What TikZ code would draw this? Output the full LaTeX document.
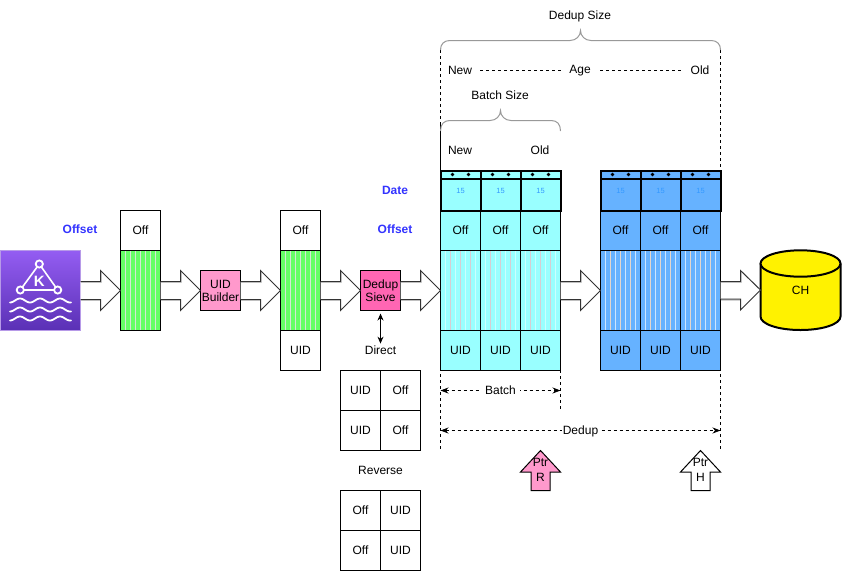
\documentclass[tikz,border=0pt]{standalone}
\usepackage{fontspec}
\setmainfont{Liberation Sans}
\usetikzlibrary{arrows.meta}
\definecolor{inkline}{HTML}{000000}
\definecolor{flowline}{HTML}{333333}
\definecolor{flowshade}{HTML}{D4D4D4}
\definecolor{greenfill}{HTML}{66FF66}
\definecolor{cyanfill}{HTML}{99FFFF}
\definecolor{bluefill}{HTML}{66B2FF}
\definecolor{pinkfill}{HTML}{FF99CC}
\definecolor{hotpink}{HTML}{FF66B3}
\definecolor{labelblue}{HTML}{3333FF}
\definecolor{batchnum}{HTML}{3399FF}
\definecolor{bracegray}{HTML}{999999}
\definecolor{purpletop}{HTML}{945DF2}
\definecolor{purplebot}{HTML}{5A30B5}
\definecolor{purpleedge}{HTML}{B79AE8}
\definecolor{stripegreen}{HTML}{D6E6D6}
\definecolor{stripecyanpale}{HTML}{CCFFFF}
\definecolor{stripecyangray}{HTML}{D8CCD2}
\definecolor{stripebluepale}{HTML}{CCE5FF}
\definecolor{stripebluetan}{HTML}{E4D6CC}
\tikzset{
  basefont/.style={font=\fontsize{12}{14}\selectfont},
  cell/.style={draw=inkline,line width=1pt,inner sep=0pt,outer sep=0pt,minimum width=40pt,minimum height=40pt,basefont,align=center},
  bodycell/.style={cell,minimum height=80pt},
  datecell/.style={draw=black,line width=2pt,inner sep=0pt,outer sep=0pt,minimum width=40pt,minimum height=32pt,text=batchnum,font=\fontsize{7.5}{9}\selectfont},
  dotcell/.style={datecell,minimum height=8pt},
  plain/.style={inner sep=1pt,outer sep=0pt,basefont,align=center},
  tag/.style={plain,text=labelblue,font=\fontsize{12}{14}\selectfont\bfseries},
  gaugeline/.style={line width=0.8pt,dash pattern=on 3pt off 3pt},
  bracket/.style={draw=bracegray,line width=1pt},
  span/.style={gaugeline,{Stealth[length=8pt,width=6pt]}-{Stealth[length=8pt,width=6pt]}},
  pointer/.style={draw=inkline,line width=1pt},
}
% Block arrow between two nodes, 40 units long, with a soft inner shade
\newcommand{\flow}[2]{%
  \fill[white] (#1.east) ++(0,-9) -- ++(20,0) -- ++(0,-11) -- (#2.west) -- ++(-20,20) -- ++(0,-11) -- ++(-20,0) -- cycle;
  \draw[flowshade,line width=1pt] (#1.east) ++(0,-8) -- ++(21,0) -- ++(0,-10);
  \draw[flowshade,line width=1pt] (#1.east) ++(0,10) -- ++(20.5,0);
  \draw[flowline,line width=1pt] (#1.east) ++(0,-9) -- ++(20,0) -- ++(0,-11) -- (#2.west) -- ++(-20,20) -- ++(0,-11) -- ++(-20,0);
}
% Thin vertical stripes inside a record body: first argument is the left edge
\newcommand{\stripes}[3]{%
  \foreach \k in {1,3,5,7} {\draw[#2,line width=1pt] ({#1+5*\k},251) -- ({#1+5*\k},330);}
  \foreach \k in {2,4,6} {\draw[#3,line width=1pt] ({#1+5*\k},251) -- ({#1+5*\k},330);}
}
% One cyan or blue record column: offset, body, UID
\newcommand{\record}[3]{%
  \node[cell,fill=#3] (#2off) at (#1+20,230.5) {Off};
  \node[bodycell,fill=#3] (#2body) at (#1+20,290.5) {};
  \node[cell,fill=#3] (#2uid) at (#1+20,350.5) {UID};
}
% Date strip with its two dots and batch number
\newcommand{\stamp}[3]{%
  \node[dotcell,fill=#3] (#2dots) at (#1+20,174.5) {};
  \node[datecell,fill=#3] (#2date) at (#1+20,194.5) {\raisebox{7pt}{15}};
  \fill[black] (#1+12,174.5) circle (1.8pt) (#1+28,174.5) circle (1.8pt);
}
\begin{document}
\begin{tikzpicture}[x=1pt,y=-1pt]
\useasboundingbox[fill=white] (0,0) rectangle (842,571);

% Guides behind the record columns
\draw[gaugeline] (440.5,50) -- (440.5,450);
\draw[gaugeline] (720.5,50) -- (720.5,450);
\draw[gaugeline] (440.5,125) -- (440.5,170);
\draw[gaugeline] (560.5,370) -- (560.5,410);

% Source stream icon
\node[draw=purpleedge,line width=1pt,top color=purpletop,bottom color=purplebot,minimum width=80pt,minimum height=80pt,inner sep=0pt,outer sep=0pt] (kin) at (40.5,290.5) {};
\draw[white,line width=1.6pt] (39.3,264) -- (20.3,290) -- (57.7,290) -- cycle;
\filldraw[draw=white,fill=purpletop!85!purplebot,line width=1.8pt] (39.3,264) circle (3.6pt);
\filldraw[draw=white,fill=purpletop!55!purplebot,line width=1.8pt] (20.3,290) circle (3.6pt);
\filldraw[draw=white,fill=purpletop!55!purplebot,line width=1.8pt] (57.7,290) circle (3.6pt);
\node[text=white,inner sep=0pt,font=\fontsize{15}{17}\selectfont\bfseries] (kinletter) at (39.3,281) {K};
\foreach \wy in {300.5,309.5,318.5}
  \draw[white,line width=1.8pt,line cap=round] plot[domain=10:71,samples=70,smooth] (\x,{\wy-2*cos(18*(\x-20))});

% Incoming batch
\node[cell] (aoff) at (140.5,230.5) {Off};
\node[bodycell,fill=greenfill] (abody) at (140.5,290.5) {};
\stripes{120.5}{stripegreen}{stripegreen}

\node[cell,fill=pinkfill] (builder) at (220.5,290.5) {UID\\[-1pt]Builder};

% Batch with generated UID
\node[cell] (boff) at (300.5,230.5) {Off};
\node[bodycell,fill=greenfill] (bbody) at (300.5,290.5) {};
\stripes{280.5}{stripegreen}{stripegreen}
\node[cell] (buid) at (300.5,350.5) {UID};

\node[cell,fill=hotpink] (sieve) at (380.5,290.5) {Dedup\\[-1pt]Sieve};

% Sieve lookup tables
\node[plain] (direct) at (380.5,350) {Direct};
\draw[{Stealth[length=7pt,width=6pt]}-{Stealth[length=7pt,width=6pt]},line width=1pt,shorten <=3pt,shorten >=1pt] (sieve.south) -- (direct.north);
\node[cell] (d11) at (360.5,390.5) {UID};
\node[cell] (d12) at (400.5,390.5) {Off};
\node[cell] (d21) at (360.5,430.5) {UID};
\node[cell] (d22) at (400.5,430.5) {Off};
\node[plain] (reverse) at (380.5,470) {Reverse};
\node[cell] (r11) at (360.5,510.5) {Off};
\node[cell] (r12) at (400.5,510.5) {UID};
\node[cell] (r21) at (360.5,550.5) {Off};
\node[cell] (r22) at (400.5,550.5) {UID};

% Row captions
\node[tag] (offseta) at (80,229.5) {Offset};
\node[tag] (offsetb) at (395,229.5) {Offset};
\node[tag] (datelabel) at (395,190) {Date};

% Records in the batch window
\record{440.5}{c1}{cyanfill}
\record{480.5}{c2}{cyanfill}
\record{520.5}{c3}{cyanfill}
\foreach \sx in {440.5,480.5,520.5} {\stripes{\sx}{stripecyanpale}{stripecyangray}}

% Records in the dedup window
\record{600.5}{d1}{bluefill}
\record{640.5}{d2}{bluefill}
\record{680.5}{d3}{bluefill}
\foreach \sx in {600.5,640.5,680.5} {\stripes{\sx}{stripebluepale}{stripebluetan}}

% Date strips over the records
\stamp{440.5}{c1}{cyanfill}
\stamp{480.5}{c2}{cyanfill}
\stamp{520.5}{c3}{cyanfill}
\stamp{600.5}{d1}{bluefill}
\stamp{640.5}{d2}{bluefill}
\stamp{680.5}{d3}{bluefill}

% Storage cylinder
\draw[fill=yellow,line width=2pt] (760.5,263.5) -- (760.5,316.5)
  .. controls (760.5,324) and (778,330) .. (800.5,330)
  .. controls (823,330) and (840.5,324) .. (840.5,316.5) -- (840.5,263.5);
\draw[fill=yellow,line width=2pt] (800.5,263.5) ellipse (40pt and 13.2pt);
\node[plain,minimum width=80pt,minimum height=60pt] (ch) at (800.5,290) {CH};

% Data flow
\flow{kin}{abody}
\flow{abody}{builder}
\flow{builder}{bbody}
\flow{bbody}{sieve}
\flow{sieve}{c1body}
\flow{c3body}{d1body}
\flow{d3body}{ch}

% Window size braces
\draw[bracket] (440.5,50) .. controls (440.5,44) and (444,40.5) .. (450,40.5) -- (570,40.5)
  .. controls (576,40.5) and (580.5,36) .. (580.5,30.5)
  .. controls (580.5,36) and (585,40.5) .. (591,40.5) -- (711,40.5)
  .. controls (717,40.5) and (720.5,44) .. (720.5,50);
\node[plain] (dedupsize) at (580,16) {Dedup Size};
\draw[bracket] (440.5,131) .. controls (440.5,124) and (444,120.5) .. (450,120.5) -- (490,120.5)
  .. controls (496,120.5) and (500.5,116) .. (500.5,110.5)
  .. controls (500.5,116) and (505,120.5) .. (511,120.5) -- (551,120.5)
  .. controls (557,120.5) and (560.5,124) .. (560.5,131);
\node[plain] (batchsize) at (500,95) {Batch Size};

% Age scale
\node[plain] (newa) at (460,70) {New};
\node[plain] (agelabel) at (580,71) {Age};
\node[plain] (olda) at (700,70) {Old};
\draw[gaugeline] (480,70.5) -- (561,70.5);
\draw[gaugeline] (600,70.5) -- (681,70.5);
\node[plain] (newb) at (460,150) {New};
\node[plain] (oldb) at (540,150) {Old};

% Window extents
\coordinate (batchl) at (440.5,390.5);
\coordinate (batchr) at (560.5,390.5);
\coordinate (dedupl) at (440.5,430.5);
\coordinate (dedupr) at (720.5,430.5);
\draw[span] (batchl) -- node[plain,fill=white,inner xsep=4pt] (batchlabel) {Batch} (batchr);
\draw[span] (dedupl) -- node[plain,fill=white,inner xsep=1pt,yshift=-0.5pt] (deduplabel) {Dedup} (dedupr);

% Read and head pointers
\draw[pointer,fill=pinkfill] (540.5,450.5) -- (560.5,472) -- (550,472) -- (550,490.5) -- (531,490.5) -- (531,472) -- (520.5,472) -- cycle;
\node[plain] (ptrr) at (540.5,470) {Ptr\\[1pt]R};
\draw[pointer,fill=white] (700.5,450.5) -- (720.5,472) -- (710,472) -- (710,490.5) -- (691,490.5) -- (691,472) -- (680.5,472) -- cycle;
\node[plain] (ptrh) at (700.5,470) {Ptr\\[1pt]H};
\end{tikzpicture}
\end{document}
